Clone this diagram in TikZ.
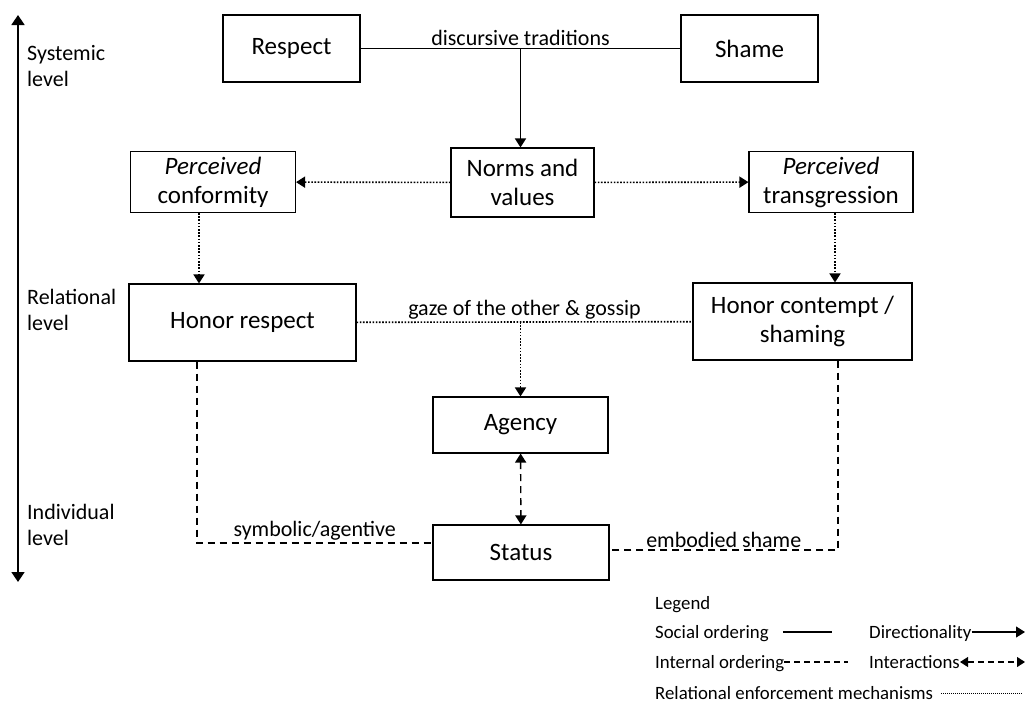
\documentclass[tikz,border=0pt]{standalone}
\usepackage{fontspec}
\setmainfont{Carlito}
\usetikzlibrary{arrows.meta,positioning}
\newcommand{\boxfont}{\fontsize{25}{29}\selectfont}
\newcommand{\lblfont}{\fontsize{22}{26}\selectfont}
\newcommand{\legfont}{\fontsize{18.8}{22}\selectfont}
\begin{document}
\begin{tikzpicture}[x=1pt,y=-1pt,
    box/.style={rectangle, draw, line width=1.1pt, inner sep=0pt, align=center, font=\boxfont},
    lbl/.style={inner sep=2pt, font=\lblfont},
    lvl/.style={anchor=west, align=left, inner sep=0pt, font=\lblfont},
    leg/.style={anchor=base west, inner sep=0pt, font=\legfont},
    tip/.style={-{Triangle[width=11pt,length=9pt]}},
    social/.style={line width=1.5pt},
    enforce/.style={line width=1.6pt, dash pattern=on 1.6pt off 1.6pt},
    internal/.style={line width=1.4pt, dash pattern=on 7pt off 5pt}]
    \useasboundingbox (0,0) rectangle (1026,705);
    \node(respect) [box, minimum width=137, minimum height=67] at (291.5,48.5) {Respect};
    \node(shame) [box, minimum width=137, minimum height=67] at (749.5,48.5) {Shame};
    \node(norms) [box, minimum width=143, minimum height=69] at (522.5,182.5) {Norms and\\values};
    \node(conformity) [box, minimum width=165, minimum height=61] at (213,182) {\textit{Perceived}\\conformity};
    \node(transgression) [box, minimum width=164, minimum height=61] at (831,182) {\textit{Perceived}\\transgression};
    \node(honorrespect) [box, minimum width=227, minimum height=77] at (242.5,322.5) {Honor respect};
    \node(honorcontempt) [box, minimum width=219, minimum height=77] at (802.5,321.5) {Honor contempt /\\shaming};
    \node(agency) [box, minimum width=175, minimum height=56] at (520.5,425) {Agency};
    \node(status) [box, minimum width=176, minimum height=55] at (521,552.5) {Status};

    \draw[social] (respect) -- node[lbl, above] (traditions) {discursive traditions} (shame);
    \draw[social, tip] (traditions.south) -- (traditions.south |- norms.north);
    \draw[enforce, tip] (norms) -- (conformity);
    \draw[enforce, tip] (norms) -- (transgression);
    \coordinate (confout) at ([xshift=-14pt]conformity.south);
    \coordinate (transout) at ([xshift=4pt]transgression.south);
    \draw[enforce, tip] (confout) -- (confout |- honorrespect.north);
    \draw[enforce, tip] (transout) -- (transout |- honorcontempt.north);
    \draw[enforce] (honorrespect) -- node[lbl, above] (gaze) {gaze of the other \& gossip} (honorcontempt);
    \draw[enforce, tip] (gaze.south -| agency) -- (agency);
    \draw[internal, {Triangle[width=11pt,length=9pt]}-{Triangle[width=11pt,length=9pt]}] (agency) -- (status);
    \draw[internal] ([xshift=-45.5pt]honorrespect.south) |- node[lbl, above, pos=0.75] (symbolic) {symbolic/agentive} ([yshift=9.5pt]status.west);
    \draw[internal] ([xshift=35.5pt]honorcontempt.south) |- node[lbl, above, pos=0.75] (embodied) {embodied shame} ([yshift=2.5pt]status.east);

    \coordinate (axistop) at (18,15);
    \coordinate (axisbottom) at (18,582);
    \draw[line width=1.6pt, {Triangle[width=13pt,length=10pt]}-{Triangle[width=13pt,length=10pt]}] (axistop) -- (axisbottom);
    \node(systemic) [lvl] at (27,66) {Systemic\\level};
    \node(relational) [lvl] at (27,310) {Relational\\level};
    \node(individual) [lvl] at (27,525) {Individual\\level};

    \node(legend) [leg] at (655,609) {Legend};
    \node(socialtxt) [leg] at (655,638) {Social ordering};
    \node(directtxt) [leg] at (869,638) {Directionality};
    \node(internaltxt) [leg] at (655,668) {Internal ordering};
    \node(interacttxt) [leg] at (869,668) {Interactions};
    \node(enforcetxt) [leg] at (655,699) {Relational enforcement mechanisms};
    \coordinate (socialend) at (832,632);
    \coordinate (directend) at (1025,632);
    \coordinate (internalend) at (848,662);
    \coordinate (interactend) at (1025,662);
    \coordinate (enforceend) at (1022,693);
    \draw[line width=1.1pt] ([xshift=14pt]socialtxt.east |- socialend) -- (socialend);
    \draw[line width=1.1pt, tip] (directtxt.east |- directend) -- (directend);
    \draw[line width=1.1pt, dash pattern=on 6pt off 4pt] (internaltxt.east |- internalend) -- (internalend);
    \draw[line width=1.1pt, dash pattern=on 6pt off 4pt, {Triangle[width=10pt,length=8pt]}-{Triangle[width=10pt,length=8pt]}] (interacttxt.east |- interactend) -- (interactend);
    \draw[line width=1pt, dash pattern=on 1pt off 1pt] ([xshift=8pt]enforcetxt.east |- enforceend) -- (enforceend);
\end{tikzpicture}
\end{document}
